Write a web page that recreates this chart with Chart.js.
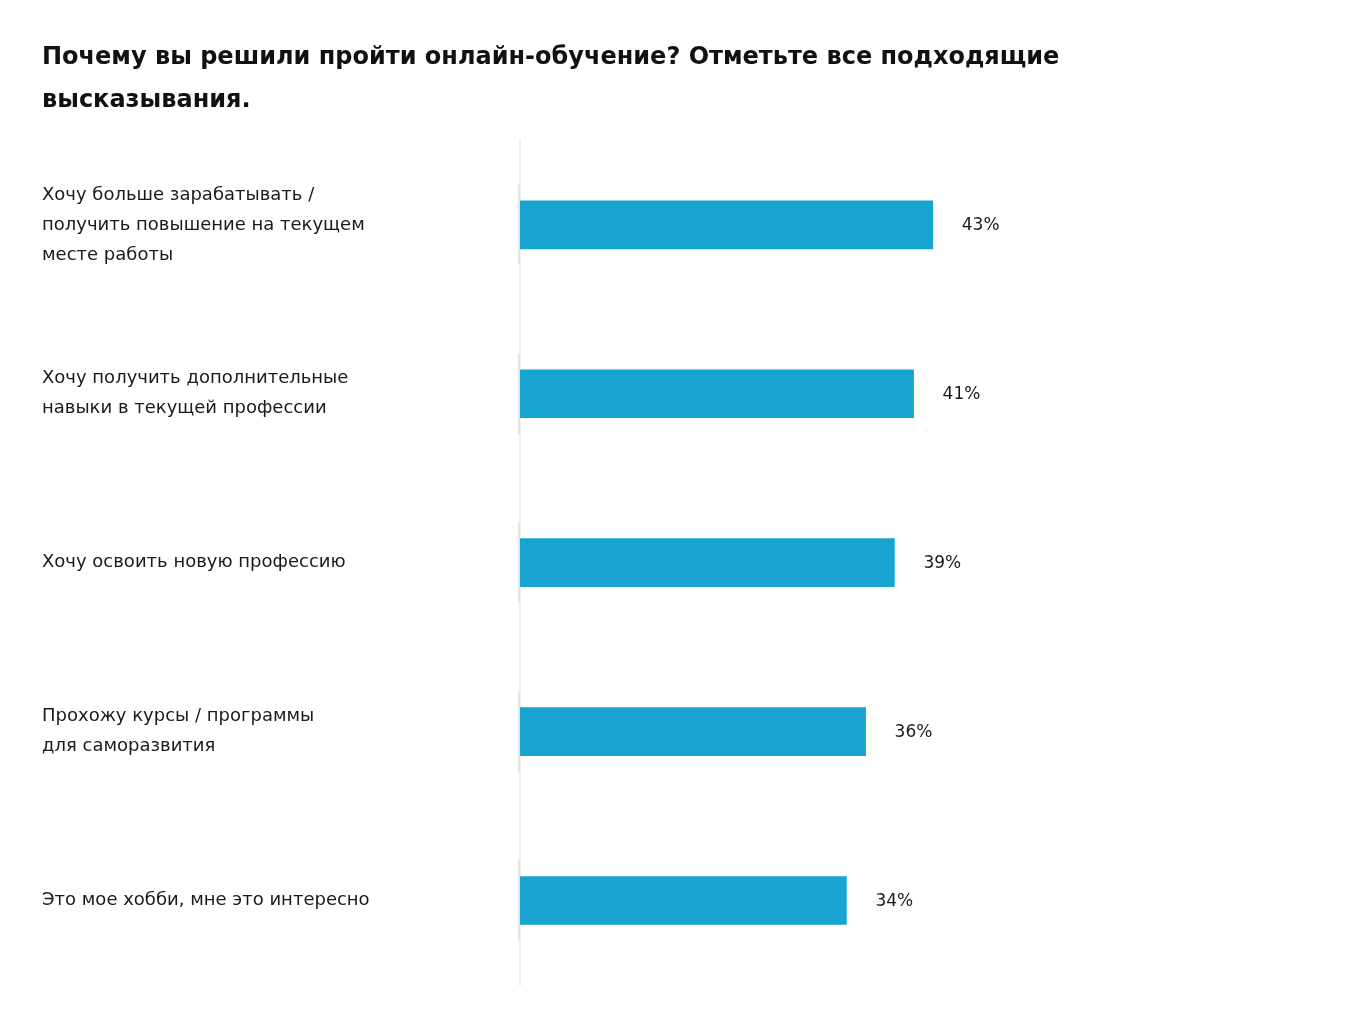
<!DOCTYPE html>
<html lang="ru">
<head>
<meta charset="utf-8">
<script src="https://cdn.jsdelivr.net/npm/chart.js@4"></script>
<style>
  html, body { margin: 0; padding: 0; background: #fff; }
  #wrap { width: 1360px; height: 1019px; position: relative; }
</style>
</head>
<body>
<div id="wrap"><canvas id="chart"></canvas></div>
<script>
// Reasons for taking online courses, share of respondents (%)
const TITLE = [
  "Почему вы решили пройти онлайн-обучение? Отметьте все подходящие",
  "высказывания.",
];
const CATEGORIES = [
  ["Хочу больше зарабатывать /", "получить повышение на текущем", "месте работы"],
  ["Хочу получить дополнительные", "навыки в текущей профессии"],
  ["Хочу освоить новую профессию"],
  ["Прохожу курсы / программы", "для саморазвития"],
  ["Это мое хобби, мне это интересно"],
];
const VALUES = [43, 41, 39, 36, 34];

const FONT = "'DejaVu Sans', sans-serif";
const BAR_COLOR = "#17a4d0";

// value labels to the right of each bar
const valueLabels = {
  id: "valueLabels",
  afterDatasetsDraw(chart) {
    const { ctx } = chart;
    const meta = chart.getDatasetMeta(0);
    ctx.save();
    ctx.font = `17px ${FONT}`;
    ctx.fillStyle = "#1a1a1a";
    ctx.textAlign = "left";
    ctx.textBaseline = "middle";
    meta.data.forEach((bar, i) => {
      ctx.fillText(VALUES[i] + "%", bar.x + 29, bar.y + 1);
    });
    ctx.restore();
  },
};

// slightly darker segments on the axis line around each bar
const axisMarks = {
  id: "axisMarks",
  beforeDatasetsDraw(chart) {
    const { ctx, chartArea } = chart;
    const meta = chart.getDatasetMeta(0);
    ctx.save();
    ctx.strokeStyle = "#e4e4e4";
    ctx.lineWidth = 2;
    meta.data.forEach((bar) => {
      ctx.beginPath();
      ctx.moveTo(chartArea.left - 1, bar.y - 40);
      ctx.lineTo(chartArea.left - 1, bar.y + 40);
      ctx.stroke();
    });
    ctx.restore();
  },
};

new Chart(document.getElementById("chart"), {
  type: "bar",
  data: {
    labels: CATEGORIES,
    datasets: [
      {
        data: VALUES,
        backgroundColor: BAR_COLOR,
        barThickness: 48,
        borderWidth: 0,
      },
    ],
  },
  options: {
    indexAxis: "y",
    responsive: true,
    maintainAspectRatio: false,
    animation: false,
    layout: { padding: { left: 42, right: 72, top: 0, bottom: 34 } },
    plugins: {
      legend: { display: false },
      tooltip: { enabled: false },
      title: {
        display: true,
        text: TITLE,
        align: "start",
        color: "#111",
        font: { family: FONT, size: 24, weight: "bold", lineHeight: 1.8 },
        padding: { top: 36, bottom: 18 },
      },
    },
    scales: {
      x: {
        display: false,
        min: 0,
        max: 80,
      },
      y: {
        grid: { display: false },
        border: { display: true, color: "#f0f0f0", width: 2 },
        afterFit: (scale) => {
          scale.width = 478;
          // labels sit inside their bands, no overflow room needed
          scale.paddingTop = 0;
          scale.paddingBottom = 0;
        },
        ticks: {
          crossAlign: "far",
          color: "#1a1a1a",
          padding: 0,
          font: { family: FONT, size: 18, lineHeight: 1.667 },
        },
      },
    },
  },
  plugins: [valueLabels, axisMarks],
});
</script>
</body>
</html>
